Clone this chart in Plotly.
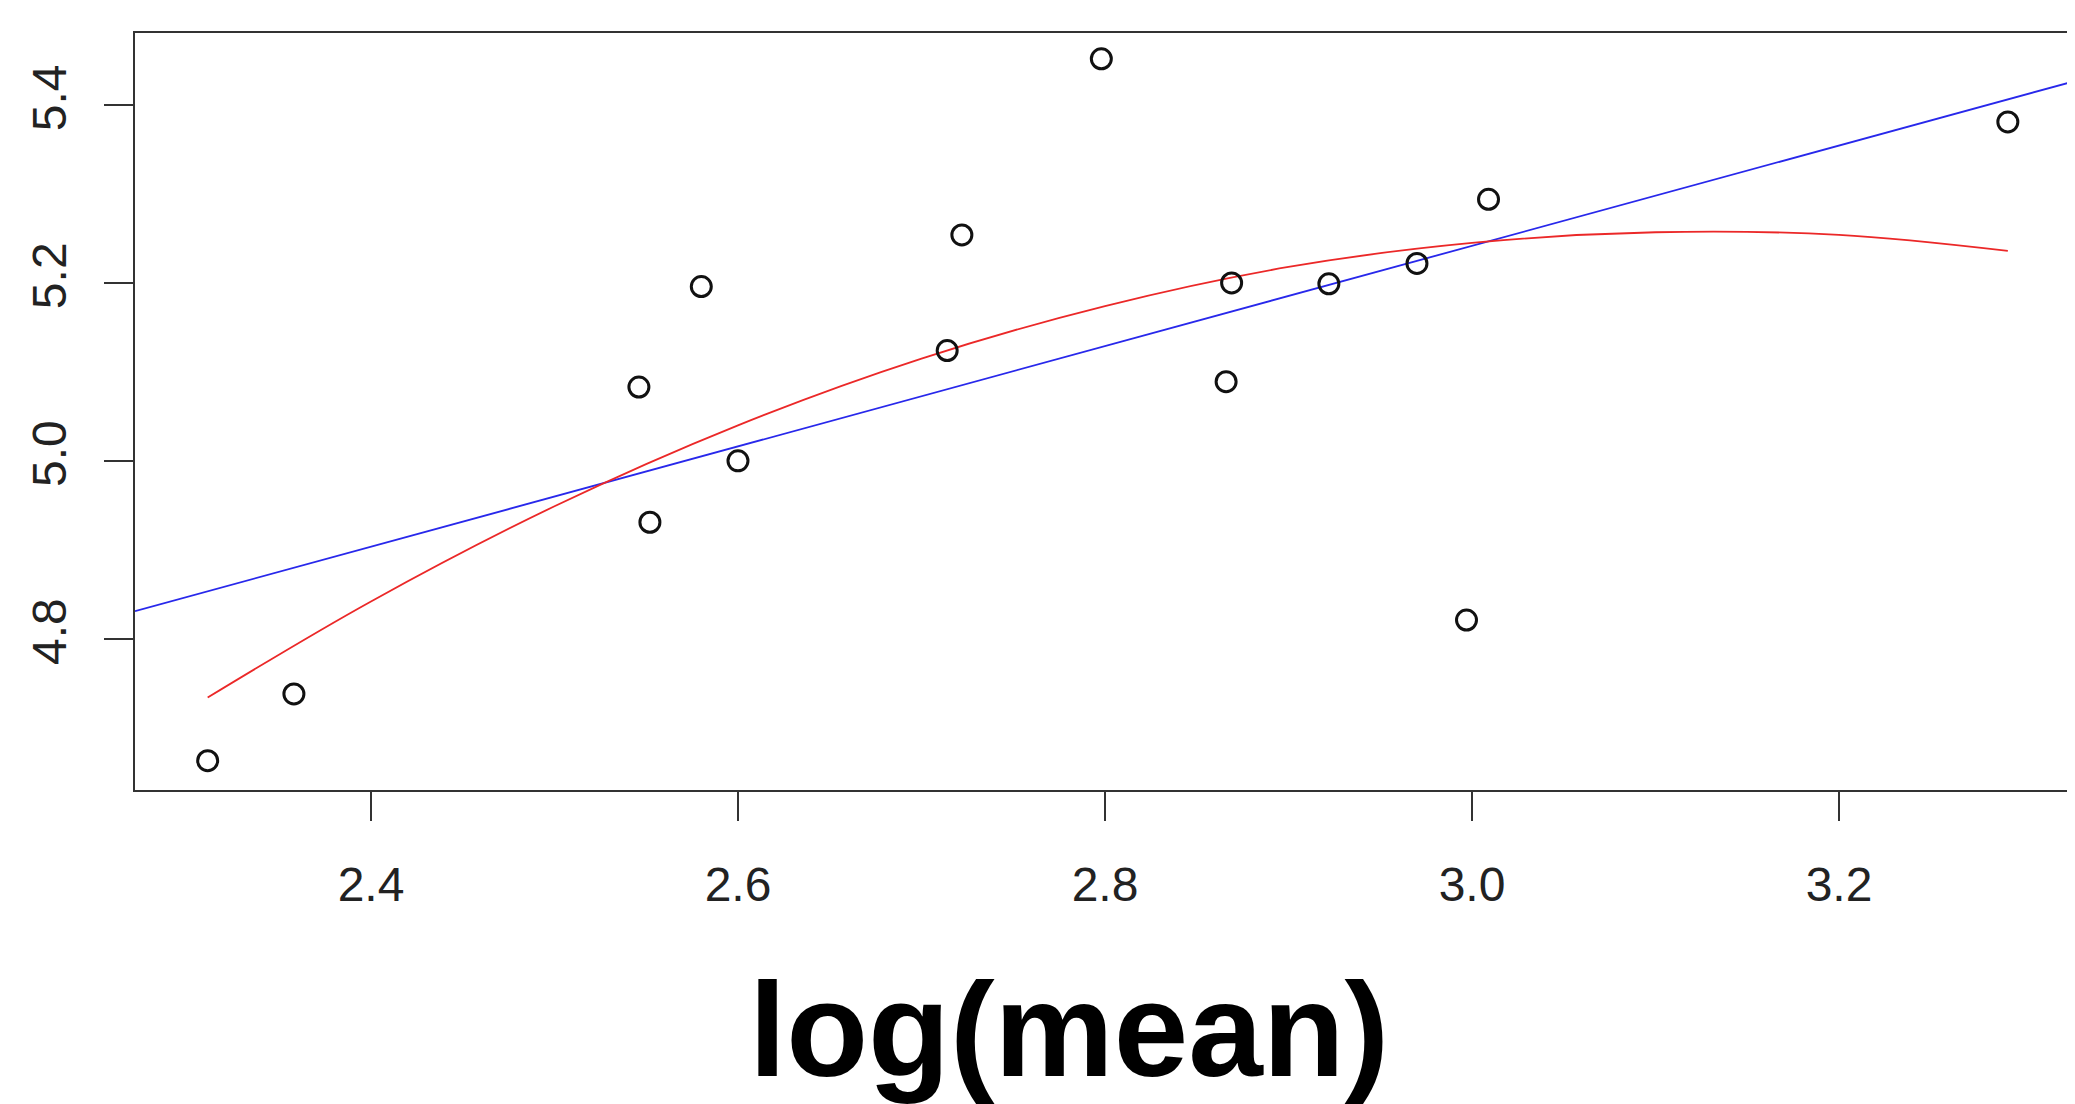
import plotly.graph_objects as go

# Data points
log_mean = [2.311, 2.358, 2.546, 2.552, 2.580, 2.600, 2.714, 2.722, 2.798,
            2.866, 2.869, 2.922, 2.970, 2.997, 3.009, 3.292]
y_vals = [4.663, 4.738, 5.083, 4.931, 5.196, 5.000, 5.124, 5.254, 5.452,
          5.089, 5.200, 5.199, 5.222, 4.821, 5.294, 5.381]

# Blue straight line (read at the left and right edges of the plot)
blue_x = [2.2714, 3.3286]
blue_y = [4.831, 5.427]

# Red curve (read at sample positions)
red_x = [2.311, 2.40, 2.50, 2.60, 2.70, 2.80, 2.90, 3.00, 3.10, 3.20, 3.292]
red_y = [4.734, 4.842, 4.949, 5.040, 5.115, 5.174, 5.218, 5.245, 5.257, 5.254, 5.236]

x_ticks = [2.4, 2.6, 2.8, 3.0, 3.2]
x_tick_labels = ["2.4", "2.6", "2.8", "3.0", "3.2"]
y_ticks = [4.8, 5.0, 5.2, 5.4]
y_tick_labels = ["4.8", "5.0", "5.2", "5.4"]

x_label = "log(mean)"

fig = go.Figure()
fig.add_trace(go.Scatter(x=blue_x, y=blue_y, mode="lines",
                         line=dict(color="rgb(40,40,235)", width=1.8),
                         showlegend=False, hoverinfo="skip"))
fig.add_trace(go.Scatter(x=red_x, y=red_y, mode="lines", line_shape="spline",
                         line=dict(color="rgb(235,40,40)", width=1.8),
                         showlegend=False, hoverinfo="skip"))
fig.add_trace(go.Scatter(x=log_mean, y=y_vals, mode="markers",
                         marker=dict(symbol="circle-open", size=20,
                                     color="#111", line=dict(width=3, color="#111")),
                         showlegend=False))

font_ticks = dict(family="Liberation Sans, Arial, sans-serif", size=48, color="#222")

# the page body adds an 8 px offset, so the figure is 8 px smaller on each side
fig.update_layout(
    width=2067, height=1096,
    margin=dict(l=127, r=0, t=25, b=314),
    paper_bgcolor="white", plot_bgcolor="white",
    xaxis=dict(range=[2.2714, 3.3286], showgrid=False, zeroline=False,
               showline=True, mirror=True, linecolor="#333", linewidth=2,
               ticks="outside", ticklen=29, tickwidth=1.5, tickcolor="#333",
               tickvals=x_ticks, ticktext=x_tick_labels,
               tickfont=font_ticks, ticklabelstandoff=22),
    yaxis=dict(range=[4.630, 5.481], showgrid=False, zeroline=False,
               showline=True, mirror=False, linecolor="#333", linewidth=2,
               ticks="outside", ticklen=29, tickwidth=1.5, tickcolor="#333",
               tickvals=y_ticks, ticktext=y_tick_labels, tickangle=-90,
               tickfont=font_ticks, ticklabelstandoff=19),
    annotations=[dict(text="<b>" + x_label + "</b>", xref="paper", yref="paper",
                      x=0.4814, y=-0.215, xanchor="center", yanchor="top",
                      showarrow=False,
                      font=dict(family="Liberation Sans, Arial, sans-serif",
                                size=134, color="black"))],
)

fig.write_html("out.html")
